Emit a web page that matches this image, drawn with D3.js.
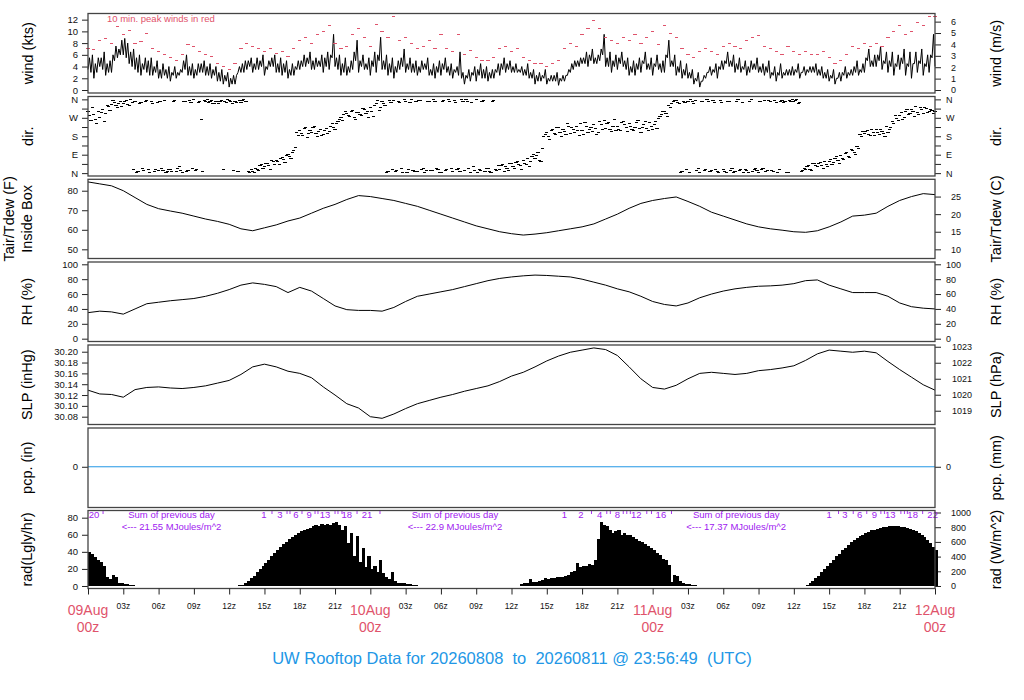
<!DOCTYPE html>
<html><head><meta charset="utf-8">
<script src="https://cdn.jsdelivr.net/npm/d3@7"></script>
<style>body{margin:0;background:#fff}</style>
</head><body><svg id="c" width="1024" height="700"></svg>
<script>
// ---- DATA (hours since 09Aug 00z) ----
const windStep = 0.125; // hours between wind samples
const windKts = [
3.5,5.5,3.0,6.0,2.0,4.5,3.0,5.5, 4.0,5.5,3.5,6.5,2.5,4.5,3.0,5.0, 3.0,6.0,5.0,7.5,5.5,7.0,6.0,8.5,
6.0,8.8,5.5,8.0,4.5,6.5,4.0,7.0, 3.5,5.5,3.0,6.0,2.5,4.5,3.5,5.5, 3.0,5.0,2.5,5.5,2.5,4.0,3.0,5.0,
2.0,3.5,2.0,4.5,2.5,3.5,2.0,4.0, 1.5,3.0,2.5,4.0,2.0,3.0,2.5,3.5, 3.0,5.0,3.5,6.0,2.5,4.0,2.5,4.5,
2.0,3.5,2.5,4.5,3.0,4.5,3.0,5.0, 2.5,4.0,2.5,4.5,2.0,3.5,2.5,4.0, 1.5,3.0,1.5,3.5,1.0,2.5,1.5,3.0,
0.5,2.0,1.0,2.5,1.0,2.5,3.0,4.0, 3.0,4.5,3.0,5.0,3.5,5.0,4.0,5.5, 3.0,4.5,3.5,5.5,3.5,5.0,4.0,6.0,
2.5,4.0,3.5,5.0,4.0,5.5,4.0,6.0, 3.0,4.5,3.0,5.5,2.5,4.5,3.0,5.0, 2.0,3.5,2.5,4.5,2.5,4.0,3.5,5.0,
3.5,5.0,4.0,6.0,4.0,5.5,4.5,6.5, 3.5,5.0,3.5,5.5,4.0,5.0,4.0,6.0, 3.0,5.5,4.0,6.5,3.5,6.0,5.5,9.5,
4.0,5.5,3.5,6.0,2.5,4.5,3.0,5.5, 2.5,4.0,3.0,5.0,3.5,6.5,5.0,8.5, 3.0,5.0,4.0,6.0,3.5,4.5,3.5,5.5,
2.5,5.0,4.0,6.5,3.0,6.0,5.0,9.0, 3.5,5.0,3.5,6.0,2.5,4.5,3.0,5.5, 2.0,4.0,3.0,5.0,3.5,5.5,4.0,7.0,
3.0,4.5,3.5,5.5,3.0,4.5,3.0,5.0, 2.5,4.0,3.0,5.0,3.5,4.5,3.5,5.5, 2.5,3.5,2.5,4.5,2.0,4.0,3.0,5.0,
2.5,4.5,3.5,5.5,3.0,4.0,2.5,4.5, 2.0,3.5,3.0,4.0,2.5,6.5,2.0,3.0, 1.0,2.5,2.0,3.5,1.5,3.0,2.5,4.0,
1.5,3.5,2.5,4.5,2.0,3.5,2.0,4.0, 1.5,3.0,2.0,3.5,2.0,3.5,3.0,4.5, 2.5,4.5,3.5,5.5,3.0,4.5,3.5,5.0,
3.0,4.0,3.0,4.5,3.0,3.5,3.0,4.0, 2.5,3.5,2.5,4.5,2.0,3.0,2.0,3.5, 1.0,2.5,1.5,3.0,1.5,2.5,2.0,3.5,
1.0,2.0,1.5,2.5,1.5,2.5,1.5,3.0, 0.8,2.0,1.5,2.5,1.5,2.5,2.5,3.5, 3.0,4.5,3.5,5.0,4.0,5.0,4.0,5.5,
4.5,5.5,4.5,6.5,4.0,6.0,5.0,7.0, 4.5,5.5,4.5,6.0,5.0,7.0,6.0,9.5, 4.0,5.5,4.0,6.5,3.0,5.0,4.0,6.0,
3.5,5.5,4.5,6.5,4.0,5.0,3.5,5.5, 2.5,4.0,3.0,5.0,2.5,4.5,3.5,5.5, 3.0,5.0,4.5,6.5,3.5,4.5,3.5,5.5,
2.5,4.5,4.0,6.0,3.5,4.5,3.0,5.0, 3.0,6.0,5.5,8.5,4.0,5.0,4.0,6.0, 2.5,4.0,3.0,5.0,2.0,3.5,2.5,4.5,
2.0,3.0,2.0,3.5,1.0,2.0,1.5,3.0, 0.5,1.5,1.5,2.5,2.0,3.0,3.0,4.0, 2.5,3.5,3.0,4.5,2.0,4.0,3.5,5.0,
3.5,5.0,4.5,6.5,4.0,5.0,4.0,6.0, 3.0,4.5,3.5,5.5,3.0,4.0,3.5,5.0, 2.5,4.0,3.0,5.0,3.5,4.5,3.5,5.5,
3.0,4.0,3.0,4.5,2.5,4.0,3.0,5.0, 2.0,3.0,2.5,4.0,1.5,3.0,2.5,4.5, 2.0,3.0,2.5,3.5,2.5,3.5,2.5,4.0,
2.5,3.5,3.0,4.5,2.0,3.0,3.0,4.0, 2.5,3.5,3.0,4.0,3.0,4.0,3.0,4.5, 2.5,3.5,2.5,4.0,2.0,3.0,2.0,3.5,
1.5,2.5,2.0,3.5,1.0,2.0,2.0,3.0, 1.5,3.0,2.5,4.0,2.0,3.0,2.5,3.5, 2.5,4.0,3.0,5.0,2.5,3.5,3.0,4.5,
3.0,5.5,5.0,7.0,4.0,5.0,4.0,6.0, 4.0,6.0,5.0,7.5,3.5,5.0,4.5,6.5, 3.0,5.0,4.0,6.5,2.5,4.5,4.0,6.0,
3.5,5.5,4.5,7.0,2.5,4.5,4.0,6.5, 2.0,4.5,4.5,6.5,3.0,5.0,4.5,7.0, 2.5,4.5,4.0,6.0,3.0,6.0,5.5,9.5,
4.0];
const peakStep = 0.5;
const peakKts = [
7.0,6.9, 8.5,8.8, 8.0,10.9, 9.5,10.2, 8.0,8.2, 9.6,7.0, 6.5,6.0, 5.5,5.0, 6.0,7.8, 7.5,6.5, 6.0,5.8, 4.5,4.0,
3.5,4.5, 7.0,8.0, 7.5,7.0, 6.5,7.0, 6.2,6.5, 5.8,7.0, 8.5,9.0, 8.0,9.5, 10.0,11.0, 8.0,7.0, 7.5,9.5, 10.5,9.0,
7.5,11.2, 10.0,9.0, 12.5,8.5, 9.0,8.0, 7.0,7.5, 8.5,7.0, 9.5,7.0, 6.5,9.4, 6.0,6.7, 5.5,5.0, 5.0,5.5, 7.0,7.5,
6.5,7.0, 5.5,5.0, 4.5,4.5, 4.0,4.5, 5.0,7.0, 8.0,7.5, 9.5,10.5, 11.9,10.5, 9.0,8.5, 8.0,9.0, 8.5,9.5, 8.0,9.0,
10.0,7.7, 11.0,9.7, 9.0,7.0, 6.0,5.5, 6.5,7.0, 6.5,6.0, 7.5,8.0, 7.5,7.0, 8.5,9.0, 9.3,7.5, 7.0,6.5, 6.0,7.5,
6.5,6.0, 6.5,6.0, 6.0,6.5, 5.5,4.5, 5.0,6.0, 7.5,7.0, 8.0,7.5, 8.0,7.5, 9.0,10.0, 11.0,9.5, 10.0,11.5, 11.0,12.6,
12.6];
const dirStep = 0.25;
const dirDeg = [   // readings on the quarter hour
300,255,285,240, 270,310,290,325, 335,345,320,350, 340,355,330,345, 350,10,345,15, 355,5,340,20,
12,25,355,8, 18,350,10,30, 5,352,15,345, 358,20,350,8, 350,345,355,340, 348,352,20,345,
355,342,350,10, 345,358,350,5, 10,25,15,40, 30,45,20,55, 60,40,75,50, 90,70,110,200,
210,185,225,195, 200,230,180,215, 190,220,205,240, 215,250,270,285, 290,275,305,260, 295,280,310,300,
320,275,340,305, 350,330,10,345, 355,15,345,5, 350,20,358,10, 8,355,25,15, 352,12,348,20,
5,355,18,350, 10,345,25,358, 15,352,5,30, 358,20,350,10, 25,5,355,15, 20,40,30,15,
45,25,55,35, 60,40,30,80, 70,100,55,180, 200,165,215,190, 225,180,205,240, 195,215,230,185,
210,245,200,225, 235,190,250,215, 220,245,205,260, 230,210,250,225, 240,215,225,255, 200,235,220,245,
215,250,265,285, 300,275,320,350, 355,340,10,345, 350,358,342,15, 5,352,20,348, 12,345,8,355,
18,5,350,25, 10,358,20,5, 15,350,8,22, 5,18,355,12, 350,10,345,20, 355,348,5,352,
350,358,345,15, 20,35,15,45, 30,50,25,40, 55,40,70,60, 85,65,100,75, 110,90,120,180,
195,210,185,200, 215,190,205,180, 200,225,240,265, 280,260,300,285, 310,275,295,320, 290,315,300,305,
300];
const dirDeg2 = [  // readings 7.5 min after each quarter hour
280,320,260,300, 295,250,330,305, 355,330,340,325, 350,335,358,20, 5,340,25,352, 18,350,10,345,
350,15,5,20, 8,355,22,12, 348,10,355,25, 15,345,262,355, 358,350,340,352, 342,355,348,358,
350,15,345,355, 355,348,10,20, 5,20,35,25, 45,35,60,40, 55,70,65,85, 80,100,125,185,
195,220,175,210, 225,195,205,185, 210,195,230,225, 240,260,255,300, 280,300,270,295, 285,315,290,270,
300,330,355,320, 340,5,355,20, 10,350,25,358, 5,345,15,352, 355,20,5,348, 15,358,25,5,
350,12,358,25, 355,20,8,350, 358,25,345,12, 5,15,355,25, 10,350,20,35, 35,10,25,45,
30,50,40,20, 45,70,55,90, 85,60,120,190, 180,210,195,225, 200,215,190,230, 225,200,210,240,
190,230,215,205, 220,200,235,255, 240,215,230,210, 215,245,235,205, 230,210,245,220, 225,250,210,230,
235,220,275,300, 290,330,340,355, 345,5,350,20, 5,348,355,25, 350,15,358,10, 355,20,5,345,
8,352,15,5, 352,15,345,18, 5,358,20,12, 350,25,8,355, 15,355,5,348, 345,5,355,358,
355,340,10,25, 30,20,45,35, 45,35,55,30, 65,50,80,45, 70,95,80,115, 100,130,190,205,
205,190,215,185, 200,215,195,230, 215,250,280,255, 295,270,310,290, 300,325,285,310, 320,295,310,290];
const hourlyStep = 1;
const tairF = [84.5,83.5,82.5,80.0,76.5,73.0,70.8,69.6,68.5,67.0,65.5,64.3,62.8,60.5,59.5,61.0,62.5,64.5,66.0,68.5,
71.0,73.0,75.5,77.5,77.0,76.0,75.0,73.5,72.0,70.0,68.0,66.0,64.0,62.0,60.5,59.0,58.0,57.3,57.8,58.5,
59.5,60.5,61.5,63.0,65.5,68.0,71.0,73.5,75.0,76.0,76.8,74.5,72.0,69.0,67.0,65.0,63.0,61.5,60.5,59.8,
59.0,58.7,59.5,61.5,64.0,67.0,67.5,68.5,72.0,75.0,77.0,78.5,78.0];
const rhPct = [35,37,36,33,40,47,49,51,52.5,54,57,61,66,72,75,73,70,62,69,64,
54,44,39,38,38,37,42,50,57,60,63,66,70,74,78,81,83,84.5,85.5,85,
84,83,80,76,72,67,63,57,50,46,44,48,55,60,64,67,69,70.5,71,72,
74,78,79,72,67,62,62,62,57,48,43,41,40];
const slpInHg = [30.129,30.122,30.121,30.116,30.130,30.134,30.135,30.133,30.132,30.134,30.137,30.142,30.147,30.158,30.172,30.177,30.172,30.164,30.160,30.152,
30.135,30.120,30.104,30.096,30.080,30.077,30.085,30.095,30.104,30.110,30.116,30.121,30.127,30.132,30.137,30.145,30.155,30.162,30.172,30.183,
30.192,30.199,30.203,30.207,30.204,30.193,30.172,30.150,30.134,30.131,30.138,30.150,30.160,30.162,30.160,30.158,30.160,30.165,30.167,30.170,
30.174,30.184,30.196,30.203,30.201,30.199,30.201,30.198,30.182,30.167,30.153,30.139,30.129];
const pcpHours = [0,72];
const pcpIn = [0,0];
const radStep = 0.25;
const radLy = [
40,37,34,31, 28,24,10,8, 13,11,4,3, 2.5,2,1.5,1, 0.5,0,0,0,
0,0,0,0, 0,0,0,0, 0,0,0,0, 0,0,0,0, 0,0,0,0, 0,0,0,0, 0,0,0,0,
0,0,0.5,0.8, 1.5,3,6,9, 12,16,20,23, 27,31,35,39, 42,46,49,52, 55,57,60,62,
64,65,67,68, 70,72,70,73, 72,73,71,74, 75,72,66,70, 50,62,35,58, 28,45,22,35,
20,24,16,30, 15,10,8,16, 6,4,3,3, 2.5,2,1.5,1, 0.5,0,0,0,
0,0,0,0, 0,0,0,0, 0,0,0,0, 0,0,0,0, 0,0,0,0, 0,0,0,0, 0,0,0,0,
0,0,0.5,2, 3,4,8,5, 5,6,7,9, 8,9,9,10, 10,11,12,13, 16,17,27,22, 24,23,26,25,
30,55,75,72, 70,65,62,64, 65,60,62,60, 60,57,55,53, 51,49,47,45, 42,39,36,32,
30,25,5,13, 12,6,3,2.5, 2,1.5,1,0.5, 0.3,0,0,0,
0,0,0,0, 0,0,0,0, 0,0,0,0, 0,0,0,0, 0,0,0,0, 0,0,0,0, 0,0,0,0,
0,0,0.3,0.5, 1.5,3,6,9, 12,16,20,23, 27,31,35,38, 42,45,48,51, 54,56,58,60,
62,63.5,65,66, 67,68,69,69.5, 70,70.5,70.5,70, 69.5,69,68,67, 65.5,64,62,60, 57,54,50,46,
42];
// cumulative radiation (MJ/m^2) marks
const radMarkH = [0.51,1.28,14.96,15.64,16.32,16.92,17.17,17.68,18.19,18.79,19.3,19.55,20.15,21.0,21.25,21.59,22.0,22.87,23.72,24.82,
40.5,41.9,42.8,43.5,44.1,44.4,45.0,45.5,45.8,46.1,46.6,47.5,47.9,48.7,49.6,
63.0,63.8,64.35,65.05,65.6,66.2,66.85,67.4,67.7,68.2,69.1,69.4,69.65,70.1,70.95,71.8];
const radMarkLab = ["20","","1","","3","","","6","","9","","","13","","","","18","","21","",
"1","2","","4","","","8","","","","12","","","16","",
"1","","3","","6","","9","","","13","","","","18","","22"];
const sumH = [7.1, 31.2, 55.1];
const sumTotals = ["21.55", "22.9", "17.37"];
const xTickH = [0,3,6,9,12,15,18,21,24,27,30,33,36,39,42,45,48,51,54,57,60,63,66,69,72];
const xTickLab = ["","03z","06z","09z","12z","15z","18z","21z","","03z","06z","09z","12z","15z","18z","21z","","03z","06z","09z","12z","15z","18z","21z",""];
const dayH = [0,24,48,72];
const dayLab = ["09Aug","10Aug","11Aug","12Aug"];
const titleText = "UW Rooftop Data for 20260808  to  20260811 @ 23:56:49  (UTC)";

// ---- DRAWING ----
const FONT = '"Liberation Sans", Arial, Helvetica, sans-serif';
const RED = "#DF536B", BLUE = "#2297E6", PURPLE = "#A020F0";
const svg = d3.select("#c").attr("font-family", FONT);
const X0 = 88, X1 = 935;
const x = d3.scaleLinear().domain([0, 72]).range([X0, X1]);
const panels = [[13.5,93],[96.5,176],[179.3,258.5],[262,341.5],[345,424.5],[428,507.5],[510.5,588.5]];

function mkPanel(idx, dom, o) {
  const [t, b] = panels[idx];
  const y = d3.scaleLinear().domain(dom).range([b, t]);
  const yr = d3.scaleLinear().domain(dom.map(o.conv)).range([b, t]);
  const la = svg.append("g").attr("transform", `translate(${X0},0)`)
    .call(d3.axisLeft(y).tickValues(o.lt).tickFormat(o.lf || (d => d)).tickSize(6).tickPadding(4));
  const ra = svg.append("g").attr("transform", `translate(${X1},0)`)
    .call(d3.axisRight(yr).tickValues(o.rt).tickFormat(o.rf || (d => d)).tickSize(6).tickPadding(o.rp || 5));
  la.selectAll("text").attr("font-size", 9.5);
  ra.selectAll("text").attr("font-size", 9);
  [la, ra].forEach(a => {
    a.select(".domain").remove();
    a.selectAll("text").attr("fill", "#111").attr("font-family", FONT);
    a.selectAll("line").attr("stroke", "#222");
  });
  const cy = (t + b) / 2;
  o.ltitle.forEach((s, k) => {
    svg.append("text").attr("transform", `translate(${o.lx[k]},${cy}) rotate(-90)`)
      .attr("text-anchor", "middle").attr("dominant-baseline", "central")
      .attr("font-size", 14.5).attr("fill", "#000").text(s);
  });
  svg.append("text").attr("transform", `translate(996,${cy}) rotate(-90)`)
    .attr("text-anchor", "middle").attr("dominant-baseline", "central")
    .attr("font-size", 14.5).attr("fill", "#000").text(o.rtitle);
  return y;
}
function box(idx) {
  const [t, b] = panels[idx];
  svg.append("rect").attr("x", X0).attr("y", t).attr("width", X1 - X0).attr("height", b - t)
    .attr("fill", "none").attr("stroke", "#444").attr("stroke-width", 1.3);
}

// Wind
const yW = mkPanel(0, [-0.51, 13.05], {lt: [0,2,4,6,8,10,12], conv: v => v * 0.514444, rt: [0,1,2,3,4,5,6], rp: 10,
  ltitle: ["wind (kts)"], lx: [28], rtitle: "wind (m/s)"});
svg.append("path").datum(windKts).attr("fill", "none").attr("stroke", "#000").attr("stroke-width", 1)
  .attr("stroke-linejoin", "round")
  .attr("d", d3.line().x((d, i) => x(i * windStep)).y(d => yW(d)));
svg.append("g").attr("shape-rendering", "crispEdges").selectAll("line").data(peakKts).join("line")
  .attr("x1", (d, i) => x(i * peakStep) - 1.6).attr("x2", (d, i) => x(i * peakStep) + 1.6)
  .attr("y1", d => yW(d)).attr("y2", d => yW(d)).attr("stroke", RED).attr("stroke-width", 1);
svg.append("text").attr("x", 107).attr("y", 22).attr("font-size", 9.5).attr("fill", RED).text("10 min. peak winds in red");

// Direction
const dirTicks = [0,45,90,135,180,225,270,315,360];
const dirName = d => ({0:"N",90:"E",180:"S",270:"W",360:"N"}[d] || "");
const yD = mkPanel(1, [-14, 374], {lt: dirTicks, lf: dirName, conv: v => v, rt: dirTicks, rf: dirName, rp: 5,
  ltitle: ["dir."], lx: [28], rtitle: "dir."});
const dirPts = dirDeg.map((d, i) => [i * dirStep, d]).concat(dirDeg2.map((d, i) => [i * dirStep + dirStep / 2, d]));
svg.append("g").attr("shape-rendering", "crispEdges").selectAll("line").data(dirPts).join("line")
  .attr("x1", d => x(d[0]) - 1.6).attr("x2", d => x(d[0]) + 1.6)
  .attr("y1", d => yD(d[1])).attr("y2", d => yD(d[1])).attr("stroke", "#000").attr("stroke-width", 1);

// Tair
const yT = mkPanel(2, [45.3, 85.84], {lt: [50,60,70,80], conv: v => (v - 32) * 5 / 9, rt: [10,15,20,25], rp: 10,
  ltitle: ["Tair/Tdew (F)", "Inside Box"], lx: [9, 27], rtitle: "Tair/Tdew (C)"});
svg.append("path").datum(tairF).attr("fill", "none").attr("stroke", "#000").attr("stroke-width", 1)
  .attr("d", d3.line().x((d, i) => x(i * hourlyStep)).y(d => yT(d)));

// RH
const yH = mkPanel(3, [-3.8, 103.1], {lt: [0,20,40,60,80,100], conv: v => v, rt: [0,20,40,60,80,100], rp: 5,
  ltitle: ["RH (%)"], lx: [27], rtitle: "RH (%)"});
svg.append("path").datum(rhPct).attr("fill", "none").attr("stroke", "#000").attr("stroke-width", 1)
  .attr("d", d3.line().x((d, i) => x(i * hourlyStep)).y(d => yH(d)));

// SLP
const yP = mkPanel(4, [30.0656, 30.2124], {lt: [30.08,30.10,30.12,30.14,30.16,30.18,30.20], lf: d3.format(".2f"),
  conv: v => v * 33.8639, rt: [1019,1020,1021,1022,1023], rp: 11,
  ltitle: ["SLP (inHg)"], lx: [27], rtitle: "SLP (hPa)"});
svg.append("path").datum(slpInHg).attr("fill", "none").attr("stroke", "#000").attr("stroke-width", 1)
  .attr("d", d3.line().x((d, i) => x(i * hourlyStep)).y(d => yP(d)));

// Precip
const yC = mkPanel(5, [-1.05, 1], {lt: [0], conv: v => v * 25.4, rt: [0], rp: 5,
  ltitle: ["pcp. (in)"], lx: [27], rtitle: "pcp. (mm)"});
svg.append("path").datum(pcpIn).attr("fill", "none").attr("stroke", BLUE).attr("stroke-width", 1)
  .attr("d", d3.line().x((d, i) => x(pcpHours[i])).y(d => yC(d)));

// Radiation
const yR = mkPanel(6, [-2.93, 88.4], {lt: [0,20,40,60,80], conv: v => v * 11.622, rt: [0,200,400,600,800,1000], rp: 10,
  ltitle: ["rad(Lgly/hr)"], lx: [27], rtitle: "rad (W/m^2)"});
const bw = x(radStep) - x(0);
svg.append("g").attr("shape-rendering", "crispEdges").selectAll("rect")
  .data(radLy.map((v, i) => [i * radStep, v]).filter(d => d[1] > 0)).join("rect")
  .attr("x", d => x(d[0])).attr("width", bw + 0.3).attr("y", d => yR(d[1])).attr("height", d => yR(0) - yR(d[1]))
  .attr("fill", "#000");
const mk = svg.append("g");
radMarkH.forEach((h, i) => {
  if (radMarkLab[i]) {
    mk.append("text").attr("x", x(h)).attr("y", 517.5).attr("text-anchor", "middle").attr("font-size", 9.5)
      .attr("fill", PURPLE).text(radMarkLab[i]);
  } else {
    mk.append("line").attr("x1", x(h)).attr("x2", x(h)).attr("y1", 511).attr("y2", 514)
      .attr("stroke", PURPLE).attr("stroke-width", 0.9);
  }
});
sumH.forEach((h, i) => {
  mk.append("text").attr("x", x(h)).attr("y", 518).attr("text-anchor", "middle").attr("font-size", 9.5)
    .attr("fill", PURPLE).text("Sum of previous day");
  mk.append("text").attr("x", x(h)).attr("y", 529.5).attr("text-anchor", "middle").attr("font-size", 9.5)
    .attr("fill", PURPLE).text("<--- " + sumTotals[i] + " MJoules/m^2");
});

for (let i = 0; i < 7; i++) box(i);

// X axis
const xa = svg.append("g").attr("transform", `translate(0,${panels[6][1]})`)
  .call(d3.axisBottom(x).tickValues(xTickH).tickFormat("").tickSize(6));
xa.select(".domain").remove();
xa.selectAll("line").attr("stroke", "#222");
xTickH.forEach((h, i) => {
  if (xTickLab[i]) svg.append("text").attr("x", x(h)).attr("y", 608.5).attr("text-anchor", "middle")
    .attr("font-size", 8.5).attr("fill", "#111").text(xTickLab[i]);
});
dayH.forEach((h, i) => {
  svg.append("text").attr("x", x(h)).attr("y", 615).attr("text-anchor", "middle").attr("font-size", 14)
    .attr("fill", RED).text(dayLab[i]);
  svg.append("text").attr("x", x(h)).attr("y", 631.5).attr("text-anchor", "middle").attr("font-size", 14)
    .attr("fill", RED).text("00z");
});
svg.append("text").attr("x", 512).attr("y", 664).attr("text-anchor", "middle").attr("font-size", 16.5)
  .attr("fill", BLUE).style("white-space", "pre").text(titleText);
</script></body></html>
